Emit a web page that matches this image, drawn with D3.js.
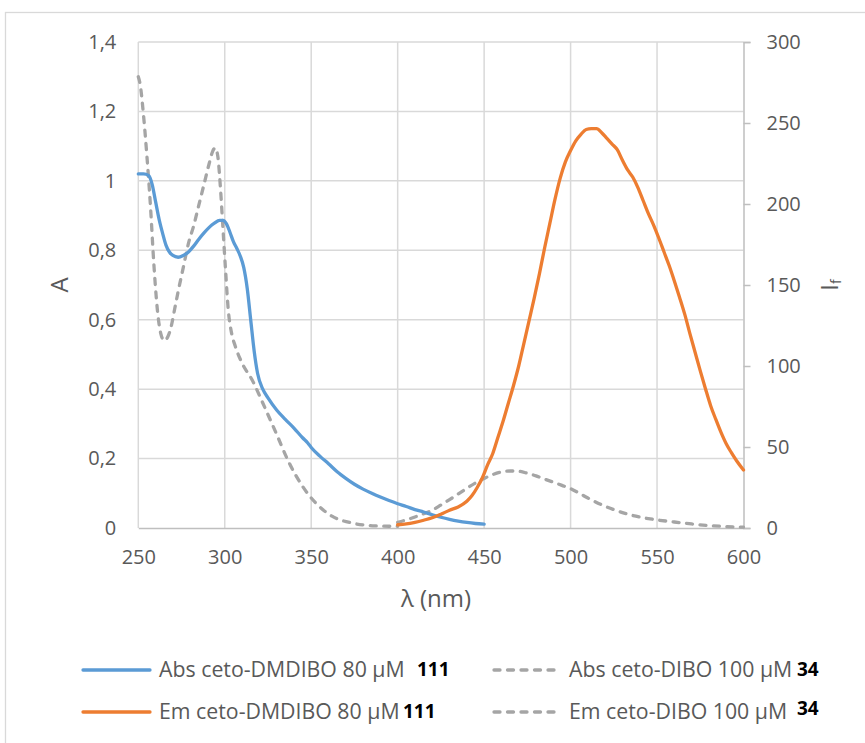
<!DOCTYPE html>
<html>
<head>
<meta charset="utf-8">
<script src="https://cdn.jsdelivr.net/npm/d3@7"></script>
<style>
  html, body { margin: 0; padding: 0; background: #fff; }
  svg { display: block; }
  text { font-family: "Open Sans", "DejaVu Sans", sans-serif; }
</style>
</head>
<body>
<svg id="chart" width="865" height="743"></svg>
<script>
// ---------------- DATA ----------------
const xTicks = [250, 300, 350, 400, 450, 500, 550, 600];
const yLeftTicks = [0, 0.2, 0.4, 0.6, 0.8, 1.0, 1.2, 1.4];
const yLeftTickLabels = ["0", "0,2", "0,4", "0,6", "0,8", "1", "1,2", "1,4"];
const yRightTicks = [0, 50, 100, 150, 200, 250, 300];

// Abs ceto-DMDIBO 80 µM (left axis)
const absDMDIBO_x = [250,253,256,258,260,262,264,266,268,270,273,276,279,282,285,288,291,294,297,299,301,303,305,307,309,311,313,315,317,319,322,325,330,335,340,345,348,350,355,360,365,370,375,380,385,390,395,400,405,410,415,420,425,430,435,440,445,450];
const absDMDIBO_y = [1.02,1.02,1.015,0.99,0.94,0.89,0.85,0.815,0.795,0.785,0.78,0.785,0.795,0.812,0.832,0.85,0.866,0.878,0.886,0.886,0.876,0.852,0.825,0.805,0.783,0.75,0.69,0.6,0.51,0.445,0.4,0.375,0.34,0.313,0.288,0.26,0.245,0.232,0.207,0.185,0.162,0.143,0.126,0.112,0.1,0.089,0.079,0.07,0.062,0.053,0.046,0.038,0.031,0.025,0.02,0.016,0.013,0.011];

// Abs ceto-DIBO 100 µM (left axis)
const absDIBO_x = [250,251,253,255,257,259,261,263,265,267,269,271,273,276,279,282,285,288,291,293,294.5,296,297.5,299,300.5,302,304,306,310,316,322,330,337,345,353,362,374,387,395,400];
const absDIBO_y = [1.30,1.28,1.19,1.07,0.93,0.76,0.63,0.56,0.54,0.55,0.58,0.63,0.68,0.75,0.82,0.87,0.93,0.99,1.05,1.085,1.095,1.07,0.98,0.86,0.74,0.63,0.56,0.525,0.475,0.425,0.36,0.27,0.19,0.12,0.07,0.034,0.014,0.006,0.005,0.005];

// Em ceto-DMDIBO 80 µM (right axis)
const emDMDIBO_x = [400,405,410,415,420,425,430,435,440,443,446,449,452,455,458,461,464,467,470,473,476,479,482,485,488,491,494,497,500,503,506,509,512,515,518,521,524,527,530,533,536,539,542,545,548,551,554,557,560,563,566,569,572,575,578,581,584,587,590,593,596,600];
const emDMDIBO_y = [2,2.5,3.5,4.8,6.3,8.5,11,13,16.5,20,25,31,39,46,56,66,77,88,100,114,128,142,157,173,188,203,216,226,233,239,243,246,246.5,246.5,244,240.5,237,233.5,227,221,216.5,210,202,194,187,179,170.5,162,152.5,142.5,132,120,108.5,97,86,75.5,67,59,52,46.5,41.5,35.8];

// Em ceto-DIBO 100 µM (right axis)
const emDIBO_x = [400,405,410,415,420,425,430,435,440,445,450,455,460,465,470,475,480,485,490,495,500,505,510,515,520,525,530,535,540,545,550,560,570,580,590,600];
const emDIBO_y = [3.5,5,6.8,8.8,11,14.2,17.5,21,24.5,27.8,30.6,33,34.6,35.2,35,33.8,32.2,30.2,28.3,26.3,24.3,21.5,18.5,15.8,13.4,11.3,9.5,8,6.8,5.8,5,3.7,2.5,1.5,0.9,0.5];

const legendLabels = ["Abs ceto-DMDIBO 80 µM", "Abs ceto-DIBO 100 µM", "Em ceto-DMDIBO 80 µM", "Em ceto-DIBO 100 µM"];
const legendRefs = ["111", "34", "111", "34"];

// ---------------- DRAW ----------------
(function () {
const svg = d3.select("#chart");
const pL = 138.3, pR = 743.5, pT = 42, pB = 528;
const x = d3.scaleLinear().domain([250, 600]).range([pL, pR]);
const yL = d3.scaleLinear().domain([0, 1.4]).range([pB, pT]);
const yR = d3.scaleLinear().domain([0, 300]).range([pB, pT]);

const gridCol = "#D9D9D9", axisCol = "#BFBFBF", txtCol = "#595959";
const blue = "#5B9BD5", orange = "#ED7D31", gray = "#A5A5A5";

// outer chart border
svg.append("rect").attr("x", 5.5).attr("y", 12.5).attr("width", 900).attr("height", 800)
  .attr("fill", "none").attr("stroke", gridCol).attr("stroke-width", 1.3);

// gridlines
const grid = svg.append("g");
grid.selectAll("line.h").data(yLeftTicks.slice(1)).join("line").attr("class", "h")
  .attr("x1", pL).attr("x2", pR)
  .attr("y1", d => yL(d)).attr("y2", d => yL(d))
  .attr("stroke", gridCol).attr("stroke-width", 1.5);
grid.selectAll("line.v").data(xTicks.slice(0, -1)).join("line").attr("class", "v")
  .attr("x1", d => x(d)).attr("x2", d => x(d))
  .attr("y1", pT).attr("y2", pB)
  .attr("stroke", gridCol).attr("stroke-width", 1.5);

// bottom axis
const xAxis = d3.axisBottom(x).tickValues(xTicks).tickSize(0).tickPadding(25).tickFormat(d3.format("d"));
const gx = svg.append("g").attr("transform", `translate(0,${pB})`).call(xAxis);
gx.select(".domain").attr("stroke", axisCol).attr("stroke-width", 1.5);
gx.selectAll("text").attr("fill", txtCol).style("font-size", "20px").attr("dy", "0.55em");

// left axis (labels only)
const yAxisL = d3.axisLeft(yL).tickValues(yLeftTicks).tickSize(0).tickPadding(22)
  .tickFormat((d, i) => yLeftTickLabels[i]);
const gyl = svg.append("g").attr("transform", `translate(${pL},0)`).call(yAxisL);
gyl.select(".domain").remove();
gyl.selectAll("text").attr("fill", txtCol).style("font-size", "20px");

// right axis
const yAxisR = d3.axisRight(yR).tickValues(yRightTicks).tickSize(7).tickPadding(16);
const gyr = svg.append("g").attr("transform", `translate(${pR},0)`).call(yAxisR);
gyr.select(".domain").attr("stroke", axisCol).attr("stroke-width", 1.5);
gyr.selectAll(".tick line").attr("stroke", axisCol).attr("stroke-width", 1.5);
gyr.selectAll("text").attr("fill", txtCol).style("font-size", "20px");

// axis titles
svg.append("text").attr("transform", "translate(62,285) rotate(-90)")
  .attr("text-anchor", "middle").attr("dominant-baseline", "middle")
  .attr("fill", txtCol).style("font-size", "24px").text("A");
svg.append("text").attr("x", 436).attr("y", 601)
  .attr("text-anchor", "middle").attr("dominant-baseline", "middle")
  .attr("fill", txtCol).style("font-size", "24px").text("λ (nm)");
const tf = svg.append("text").attr("transform", "translate(832,285) rotate(-90)")
  .attr("text-anchor", "middle").attr("dominant-baseline", "middle")
  .attr("fill", txtCol).style("font-size", "24px");
tf.append("tspan").text("I");
tf.append("tspan").attr("dy", "0.35em").style("font-size", "14px").text("f");

// lines
const dash = "6,7.5";
function drawLine(xs, ys, yScale, color, dashed) {
  const data = xs.map((v, i) => [v, ys[i]]);
  const line = d3.line().x(d => x(d[0])).y(d => yScale(d[1])).curve(d3.curveMonotoneX);
  svg.append("path").datum(data).attr("d", line)
    .attr("fill", "none").attr("stroke", color).attr("stroke-width", 3.3)
    .attr("stroke-linejoin", "round").attr("stroke-linecap", "round")
    .attr("stroke-dasharray", dashed ? dash : null);
}
drawLine(absDIBO_x, absDIBO_y, yL, gray, true);
drawLine(emDIBO_x, emDIBO_y, yR, gray, true);
drawLine(absDMDIBO_x, absDMDIBO_y, yL, blue, false);
drawLine(emDMDIBO_x, emDMDIBO_y, yR, orange, false);

// legend
const legendItems = [
  {sx: 83, tx: 159, y: 670, color: blue, dashed: false, refX: 417, refDy: 0},
  {sx: 494, tx: 569, y: 670, color: gray, dashed: true, refX: 797, refDy: 0},
  {sx: 83, tx: 159, y: 712, color: orange, dashed: false, refX: 403, refDy: 0},
  {sx: 494, tx: 569, y: 712, color: gray, dashed: true, refX: 797, refDy: -3}
];
legendItems.forEach((it, i) => {
  svg.append("line").attr("x1", it.sx).attr("x2", it.sx + 67).attr("y1", it.y).attr("y2", it.y)
    .attr("stroke", it.color).attr("stroke-width", 3.3).attr("stroke-linecap", "round")
    .attr("stroke-dasharray", it.dashed ? dash : null);
  svg.append("text").attr("x", it.tx).attr("y", it.y + 1).attr("dominant-baseline", "middle")
    .attr("fill", txtCol).style("font-size", "21.3px").text(legendLabels[i]);
  svg.append("text").attr("x", it.refX).attr("y", it.y + 1 + it.refDy).attr("dominant-baseline", "middle")
    .attr("fill", "#000").style("font-size", "19px").style("font-weight", "bold").text(legendRefs[i]);
});
})();
</script>
</body>
</html>
